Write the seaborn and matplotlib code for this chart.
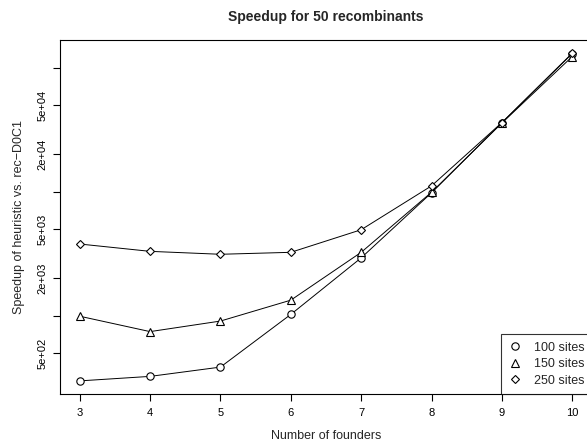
import numpy as np
import pandas as pd
import matplotlib
matplotlib.use("Agg")
import matplotlib.pyplot as plt
from matplotlib.lines import Line2D
from matplotlib.ticker import FixedLocator, NullLocator
import seaborn as sns

founders = [3, 4, 5, 6, 7, 8, 9, 10]
sites100 = [298, 324, 385, 1024, 2926, 9800, 36000, 130000]
sites150 = [990, 744, 905, 1334, 3243, 9900, 35800, 123000]
sites250 = [3784, 3302, 3127, 3243, 4933, 11140, 36100, 131000]
series_names = ["100 sites", "150 sites", "250 sites"]
marker_shapes = {"100 sites": "o", "150 sites": "^", "250 sites": "D"}
marker_sizes = {"100 sites": 5.3, "150 sites": 5.2, "250 sites": 4.2}

ytick_vals = [500, 1000, 2000, 5000, 10000, 20000, 50000, 100000]
ytick_labels = ["5e+02", "", "2e+03", "5e+03", "", "2e+04", "5e+04", ""]

df = pd.DataFrame({
    "founders": founders * 3,
    "speedup": sites100 + sites150 + sites250,
    "sites": np.repeat(series_names, len(founders)),
})

sns.set_style("ticks")
plt.rcParams["font.family"] = ["Liberation Sans", "DejaVu Sans"]

fig = plt.figure(figsize=(5.87, 4.41), dpi=100)
ax = fig.add_axes([60 / 587, 47 / 441, 532 / 587, 354 / 441])

sns.lineplot(
    data=df, x="founders", y="speedup", style="sites",
    markers=marker_shapes, dashes=False, color="black",
    linewidth=0.7, legend=False, ax=ax, zorder=2,
)
for line, name in zip(ax.lines, series_names):
    line.set_markerfacecolor("white")
    line.set_markeredgecolor("black")
    line.set_markeredgewidth(0.8)
    line.set_markersize(marker_sizes[name])

ax.set_yscale("log")
lo = np.log10(min(df["speedup"]))
hi = np.log10(max(df["speedup"]))
pad = 0.04 * (hi - lo)
ax.set_ylim(10 ** (lo - pad), 10 ** (hi + pad))
ax.set_xlim(3 - 0.04 * 7, 10 + 0.04 * 7)

ax.xaxis.set_major_locator(FixedLocator(founders))
ax.yaxis.set_major_locator(FixedLocator(ytick_vals))
ax.yaxis.set_minor_locator(NullLocator())
ax.set_yticklabels(ytick_labels, rotation=90, va="center")

for spine in ax.spines.values():
    spine.set_visible(True)
    spine.set_color("black")
    spine.set_linewidth(0.8)
ax.tick_params(axis="both", direction="out", length=5, width=0.8,
               labelsize=8, colors="black")
ax.tick_params(axis="y", pad=4)
ax.tick_params(axis="x", pad=5)

ax.set_title("Speedup for 50 recombinants", fontsize=10,
             fontweight="bold", pad=13.5)
ax.set_xlabel("Number of founders", fontsize=9, labelpad=9)
ax.set_ylabel("Speedup of heuristic vs. rec\u2212D0C1", fontsize=9, labelpad=9)

handles = [
    Line2D([], [], linestyle="none", marker=marker_shapes[n],
           markersize=marker_sizes[n], markerfacecolor="white",
           markeredgecolor="black", markeredgewidth=0.8)
    for n in series_names
]
leg = ax.legend(handles, series_names, loc="lower right", fontsize=9,
                frameon=True, fancybox=False, edgecolor="black",
                borderaxespad=0, borderpad=0.6, handlelength=1.0,
                handletextpad=1.0, labelspacing=0.35)
leg.get_frame().set_linewidth(0.8)

fig.savefig("out.png", dpi=100)
